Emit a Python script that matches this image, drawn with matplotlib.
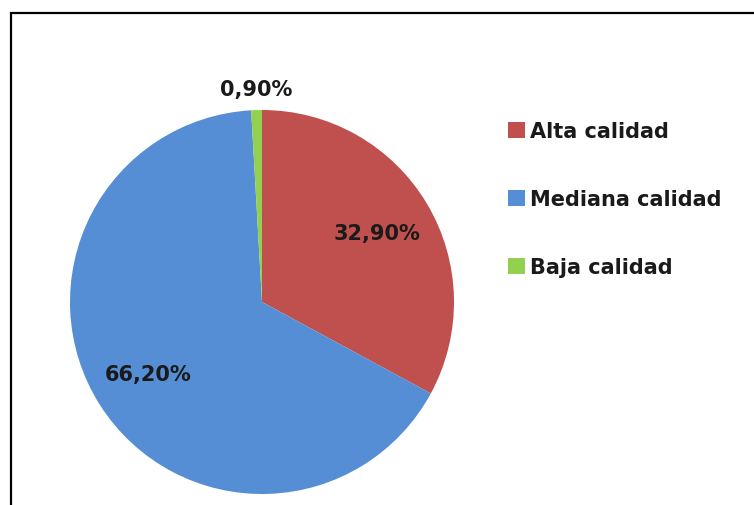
import matplotlib as mpl
import matplotlib.pyplot as plt
from matplotlib.patches import Rectangle

categories = ["Alta calidad", "Mediana calidad", "Baja calidad"]
values = [32.9, 66.2, 0.9]
colors = ["#C0504D", "#558ED5", "#92D050"]

mpl.rcParams["font.family"] = ["DejaVu Sans"]
mpl.rcParams["font.weight"] = "bold"

W, H = 754, 506
fig = plt.figure(figsize=(W / 100, H / 100), dpi=100)

# outer frame (cut off at right and bottom like the screenshot)
fig.patches.append(Rectangle((11 / W, -0.1), 2.0, (H - 14) / H + 0.1,
                             transform=fig.transFigure, fill=False,
                             edgecolor="black", linewidth=1.6, zorder=10))

cx, cy, r = 262, 303, 192
ax = fig.add_axes([(cx - r) / W, (H - cy - r) / H, 2 * r / W, 2 * r / H])


def fmt(pct):
    return f"{pct:.2f}".replace(".", ",") + "%"


wedges, texts, autotexts = ax.pie(values, colors=colors, startangle=90,
                                  counterclock=False, autopct=fmt,
                                  pctdistance=0.70,
                                  wedgeprops={"linewidth": 0},
                                  textprops={"fontsize": 15, "fontweight": "bold",
                                             "color": "#1a1a1a"})
# small slice label outside, above the pie
x, y = autotexts[2].get_position()
autotexts[2].set_position((x / 0.70 * 1.11, y / 0.70 * 1.11))
ax.set_xlim(-1, 1)
ax.set_ylim(-1, 1)

leg = fig.legend(wedges, categories, loc="upper left",
                 bbox_to_anchor=(500 / W, 1 - 114 / H), frameon=False,
                 fontsize=15, handlelength=0.8, handleheight=0.8,
                 handletextpad=0.25, labelspacing=2.3, borderaxespad=0)
for t in leg.get_texts():
    t.set_color("#1a1a1a")
    t.set_fontweight("bold")

fig.savefig("out.png", dpi=100)
